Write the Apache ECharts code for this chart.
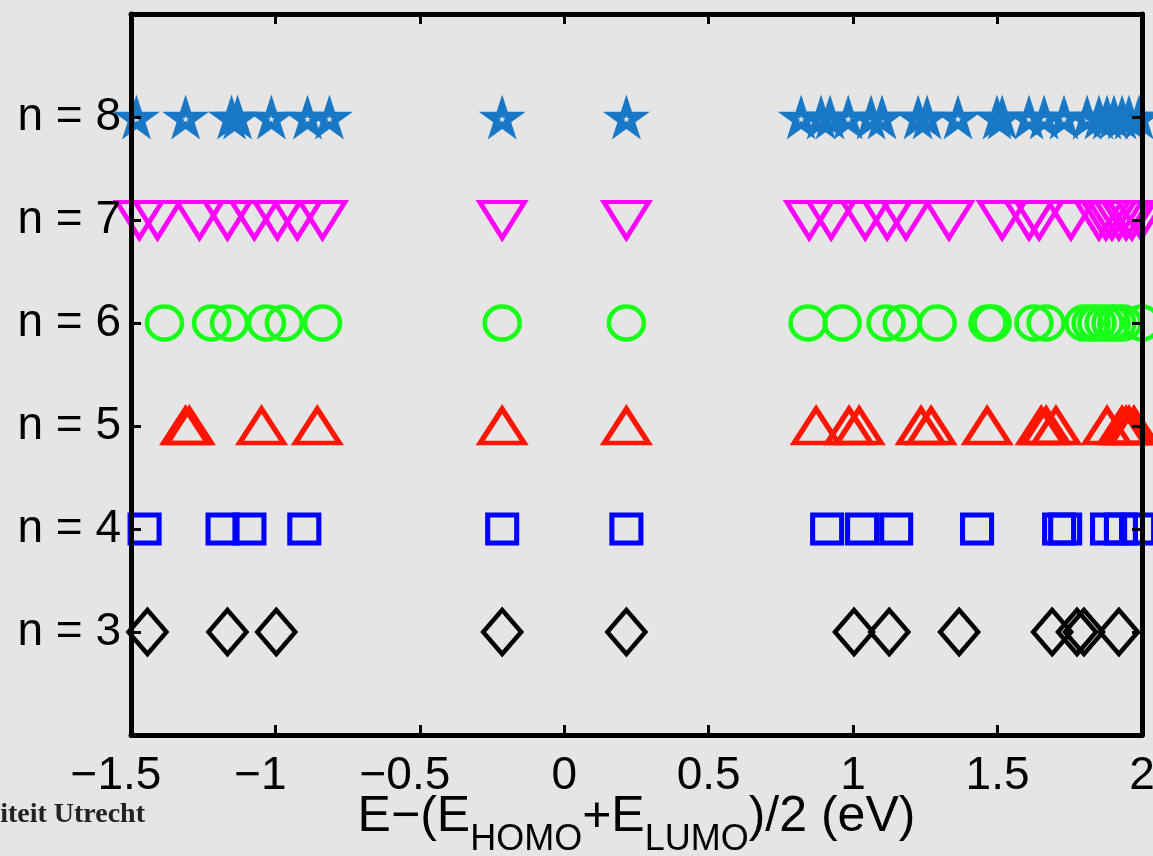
<!DOCTYPE html>
<html>
<head>
<meta charset="utf-8">
<script src="https://cdn.jsdelivr.net/npm/echarts@6/dist/echarts.min.js"></script>
<style>
  html, body { margin: 0; padding: 0; background: #e5e5e5; overflow: hidden; }
  #chart { width: 1153px; height: 856px; }
</style>
</head>
<body>
<div id="chart"></div>
<script>
// Energy levels E-(E_HOMO+E_LUMO)/2 in eV, one row per ring size n
const levels = [3, 4, 5, 6, 7, 8];
const levelLabels = ['n = 3', 'n = 4', 'n = 5', 'n = 6', 'n = 7', 'n = 8'];
const xTicks = [-1.5, -1, -0.5, 0, 0.5, 1, 1.5, 2];

const energiesN3 = [-1.443, -1.166, -0.997, -0.215, 0.215, 1.003, 1.125, 1.367, 1.689, 1.775, 1.799, 1.920];
const energiesN4 = [-1.453, -1.183, -1.090, -0.900, -0.215, 0.215, 0.910, 1.031, 1.149, 1.429, 1.713, 1.734, 1.879, 1.927, 1.990];
const energiesN5 = [-1.311, -1.298, -1.048, -0.855, -0.215, 0.215, 0.872, 0.986, 1.021, 1.235, 1.270, 1.464, 1.651, 1.668, 1.702, 1.879, 1.931, 1.945, 1.955, 1.972];
const energiesN6 = [-1.384, -1.221, -1.159, -1.031, -0.969, -0.837, -0.215, 0.215, 0.844, 0.962, 1.114, 1.170, 1.291, 1.467, 1.481, 1.626, 1.668, 1.799, 1.824, 1.844, 1.869, 1.893, 1.913, 1.934, 2.0];
const energiesN7 = [-1.471, -1.408, -1.263, -1.166, -1.073, -0.993, -0.924, -0.837, -0.215, 0.215, 0.848, 0.924, 1.042, 1.118, 1.183, 1.332, 1.516, 1.609, 1.644, 1.754, 1.851, 1.875, 1.896, 1.920, 1.945, 1.965, 1.997];
const energiesN8 = [-1.481, -1.311, -1.152, -1.131, -1.014, -0.889, -0.813, -0.215, 0.215, 0.820, 0.889, 0.920, 0.983, 1.062, 1.100, 1.225, 1.256, 1.363, 1.498, 1.516, 1.609, 1.661, 1.730, 1.810, 1.851, 1.879, 1.903, 1.931, 1.955, 1.990];

const energyRows = [energiesN3, energiesN4, energiesN5, energiesN6, energiesN7, energiesN8];

// pentagram with a small star-shaped hole in the middle (inner path wound the other way)
function starPath() {
  const cx = 50, cy = 50, R = 50, r = R * 0.382, h = 7.5, hr = h * 0.382;
  let outer = '', inner = '';
  for (let i = 0; i < 10; i++) {
    const a = -Math.PI / 2 + i * Math.PI / 5;
    const rad = i % 2 === 0 ? R : r;
    outer += (i === 0 ? 'M' : 'L') + (cx + rad * Math.cos(a)).toFixed(2) + ' ' + (cy + rad * Math.sin(a)).toFixed(2) + ' ';
  }
  outer += 'Z ';
  for (let i = 0; i < 10; i++) {
    const a = -Math.PI / 2 - i * Math.PI / 5;
    const rad = i % 2 === 0 ? h : hr;
    inner += (i === 0 ? 'M' : 'L') + (cx + rad * Math.cos(a)).toFixed(2) + ' ' + (cy + rad * Math.sin(a)).toFixed(2) + ' ';
  }
  inner += 'Z';
  return 'path://' + outer + inner;
}

const markerStyles = [
  { symbol: 'diamond', size: [38, 44], rotate: 0, color: '#000000', fill: false, width: 4.5 },
  { symbol: 'rect', size: [29, 28], rotate: 0, color: '#0000ff', fill: false, width: 5 },
  { symbol: 'triangle', size: [44, 34], rotate: 0, color: '#ff1500', fill: false, width: 5 },
  { symbol: 'circle', size: [35, 33], rotate: 0, color: '#19ff19', fill: false, width: 4.5 },
  { symbol: 'triangle', size: [45, 36], rotate: 180, color: '#ff00ff', fill: false, width: 4.5 },
  { symbol: starPath(), size: [47, 45], rotate: 0, color: '#1878c6', fill: true, width: 0 }
];

const series = levels.map(function (n, i) {
  const st = markerStyles[i];
  return {
    type: 'scatter',
    name: levelLabels[i],
    data: energyRows[i].map(function (e) { return [e, n]; }),
    symbol: st.symbol,
    symbolSize: st.size,
    symbolRotate: st.rotate,
    clip: false,
    silent: true,
    z: 2,
    itemStyle: st.fill
      ? { color: st.color, borderWidth: 0, opacity: 1 }
      : { color: 'rgba(0,0,0,0)', borderColor: st.color, borderWidth: st.width, opacity: 1 }
  };
});

const fontFamily = 'Liberation Sans, Arial, sans-serif';

function xLabel(v) {
  const s = String(Math.abs(v));
  return v < 0 ? '{neg|\u2212' + s + '}' : '{pos|' + s + '}';
}

const axisLineStyle = { color: '#000', width: 5 };
const tickStyle = { color: '#000', width: 3 };

const chart = echarts.init(document.getElementById('chart'), null, { renderer: 'canvas', width: 1153, height: 856 });
chart.setOption({
  backgroundColor: '#e5e5e5',
  animation: false,
  grid: { left: 131, top: 14, width: 1011, height: 721, containLabel: false, outerBoundsMode: 'none' },
  xAxis: [
    {
      type: 'value', position: 'bottom', min: xTicks[0], max: xTicks[xTicks.length - 1], interval: 0.5,
      z: 5,
      axisLine: { show: true, onZero: false, lineStyle: axisLineStyle },
      axisTick: { show: true, inside: true, length: 10, lineStyle: tickStyle },
      splitLine: { show: false },
      axisLabel: {
        margin: 18, color: '#000', fontSize: 46, fontFamily: fontFamily,
        hideOverlap: false,
        formatter: xLabel,
        rich: {
          neg: { fontSize: 46, fontFamily: fontFamily, color: '#000', padding: [0, 30, 0, 0] },
          pos: { fontSize: 46, fontFamily: fontFamily, color: '#000' }
        }
      },
      name: '{m|E\u2212(E}{s|HOMO}{m|+E}{s|LUMO}{m|)/2 (eV)}',
      nameLocation: 'middle',
      nameGap: 57,
      nameMoveOverlap: false,
      nameTextStyle: {
        rich: {
          m: { fontSize: 50, lineHeight: 56, verticalAlign: 'top', fontFamily: fontFamily, color: '#000' },
          s: { fontSize: 36, lineHeight: 36, verticalAlign: 'top', padding: [30, 0, 0, 0], fontFamily: fontFamily, color: '#000' }
        }
      }
    },
    {
      type: 'value', position: 'top', min: xTicks[0], max: xTicks[xTicks.length - 1], interval: 0.5,
      z: 5,
      axisLine: { show: true, onZero: false, lineStyle: axisLineStyle },
      axisTick: { show: true, inside: true, length: 10, lineStyle: tickStyle },
      axisLabel: { show: false },
      splitLine: { show: false }
    }
  ],
  yAxis: [
    {
      type: 'value', position: 'left', min: 2, max: 9, interval: 1,
      z: 5,
      axisLine: { show: true, onZero: false, lineStyle: axisLineStyle },
      axisTick: { show: true, inside: true, length: 10, lineStyle: tickStyle },
      splitLine: { show: false },
      axisLabel: {
        margin: 10, color: '#000', fontSize: 46, fontFamily: fontFamily,
        formatter: function (v) {
          const idx = levels.indexOf(v);
          return idx >= 0 ? levelLabels[idx] : '';
        }
      }
    },
    {
      type: 'value', position: 'right', min: 2, max: 9, interval: 1,
      z: 5,
      axisLine: { show: true, onZero: false, lineStyle: axisLineStyle },
      axisTick: { show: true, inside: true, length: 10, lineStyle: tickStyle },
      axisLabel: { show: false },
      splitLine: { show: false }
    }
  ],
  graphic: [
    {
      type: 'text', x: 145, y: 815, silent: true,
      style: {
        text: 'Universiteit Utrecht',
        font: 'bold 28px "Liberation Serif", "DejaVu Serif", serif',
        fill: '#222',
        align: 'right',
        verticalAlign: 'middle'
      }
    }
  ],
  series: series
});
</script>
</body>
</html>
